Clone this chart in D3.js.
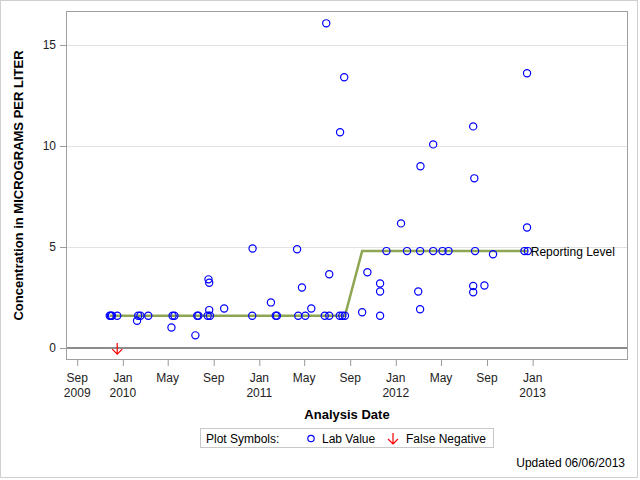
<!DOCTYPE html>
<html>
<head>
<meta charset="utf-8">
<script src="https://cdn.jsdelivr.net/npm/d3@7"></script>
<style>
  html, body { margin: 0; padding: 0; background: #fff; }
  svg { display: block; font-family: "Liberation Sans", Arial, sans-serif; }
</style>
</head>
<body>
<svg id="chart" width="640" height="480"></svg>
<script>
// ---------- DATA ----------
const labDates = [
  "2009-11-27","2009-11-30","2009-12-03","2009-12-17",
  "2010-02-08","2010-02-11","2010-02-17","2010-03-10",
  "2010-05-11","2010-05-14","2010-05-19",
  "2010-07-14","2010-07-19","2010-07-22",
  "2010-08-16","2010-08-18","2010-08-20","2010-08-20","2010-08-22",
  "2010-09-29","2010-12-13","2010-12-14",
  "2011-02-01","2011-02-14","2011-02-17",
  "2011-04-12","2011-04-15","2011-04-25","2011-05-04","2011-05-20",
  "2011-06-25","2011-06-29","2011-07-07","2011-07-07",
  "2011-08-04","2011-08-05","2011-08-11","2011-08-16","2011-08-18",
  "2011-10-03","2011-10-17","2011-11-20","2011-11-20","2011-11-20",
  "2011-12-07","2012-01-15","2012-01-31",
  "2012-03-01","2012-03-06","2012-03-06","2012-03-07",
  "2012-04-10","2012-04-10","2012-05-05","2012-05-21",
  "2012-07-26","2012-07-26","2012-07-26","2012-07-29","2012-07-31",
  "2012-08-25","2012-09-17",
  "2012-12-10","2012-12-17","2012-12-17","2012-12-19"
];
const labValues = [
  1.6, 1.6, 1.6, 1.6,
  1.35, 1.6, 1.6, 1.6,
  1.02, 1.6, 1.6,
  0.63, 1.6, 1.6,
  1.6, 3.4, 3.23, 1.88, 1.6,
  1.96, 1.6, 4.93,
  2.26, 1.6, 1.6,
  4.89, 1.6, 3.0, 1.6, 1.96,
  1.6, 16.07, 1.6, 3.65,
  1.6, 10.68, 1.6, 13.4, 1.6,
  1.77, 3.75, 3.2, 2.8, 1.6,
  4.8, 6.17, 4.8,
  2.8, 4.8, 1.92, 9.0,
  4.8, 10.08, 4.8, 4.8,
  3.07, 2.76, 10.97, 8.4, 4.8,
  3.1, 4.64,
  4.8, 5.97, 13.6, 4.8
];
const falseNegDates = ["2009-12-17"];
const falseNegValues = [0];
const reportDates = ["2009-11-27", "2011-08-18", "2011-10-03", "2012-12-19"];
const reportValues = [1.6, 1.6, 4.8, 4.8];
const xTickDates = ["2009-09-01","2010-01-01","2010-05-01","2010-09-01","2011-01-01",
  "2011-05-01","2011-09-01","2012-01-01","2012-05-01","2012-09-01","2013-01-01"];
const xTickMonths = ["Sep","Jan","May","Sep","Jan","May","Sep","Jan","May","Sep","Jan"];
const xTickYears = ["2009","2010","","","2011","","","2012","","","2013"];
const yTicks = [0, 5, 10, 15];
const yGrid = [5, 10, 15];

// ---------- SETUP ----------
const parse = d3.utcParse("%Y-%m-%d");
const svg = d3.select("#chart");
const L = 66, R = 628, T = 11, B = 360;

const x = d3.scaleUtc()
  .domain([parse("2009-08-02"), parse("2013-09-13")])
  .range([L, R]);
const y = d3.scaleLinear().domain([-0.59, 16.68]).range([B, T]);

// outer border
svg.append("rect").attr("x", 0.5).attr("y", 0.5).attr("width", 637).attr("height", 477)
  .attr("fill", "none").attr("stroke", "#d0d0d0");

// grid
svg.append("g").selectAll("line").data(yGrid).join("line")
  .attr("x1", L).attr("x2", R)
  .attr("y1", d => Math.round(y(d)) + 0.5).attr("y2", d => Math.round(y(d)) + 0.5)
  .attr("stroke", "#e2e2e2").attr("stroke-width", 1);

// zero reference line
svg.append("line").attr("x1", L).attr("x2", R)
  .attr("y1", y(0)).attr("y2", y(0))
  .attr("stroke", "#8c8c8c").attr("stroke-width", 2);

// Y axis
const yAxis = d3.axisLeft(y).tickValues(yTicks).tickSize(6).tickPadding(4).tickFormat(d3.format("d"));
const gy = svg.append("g").attr("transform", `translate(${L},0)`).call(yAxis);
gy.select(".domain").remove();
gy.selectAll(".tick line").attr("stroke", "#999");
gy.selectAll(".tick text").attr("font-size", 12).attr("fill", "#222")
  .attr("font-family", "Liberation Sans, Arial, sans-serif");

// X axis
const xAxis = d3.axisBottom(x).tickValues(xTickDates.map(parse)).tickSize(6).tickFormat("");
const gx = svg.append("g").attr("transform", `translate(0,${B})`).call(xAxis);
gx.select(".domain").remove();
gx.selectAll(".tick line").attr("stroke", "#999");
const lbl = svg.append("g").attr("font-size", 12).attr("fill", "#222").attr("text-anchor", "middle");
xTickDates.forEach((d, i) => {
  const px = x(parse(d));
  lbl.append("text").attr("x", px).attr("y", 382).text(xTickMonths[i]);
  if (xTickYears[i]) lbl.append("text").attr("x", px).attr("y", 397).text(xTickYears[i]);
});

// plot frame
svg.append("rect").attr("x", L + 0.5).attr("y", T + 0.5)
  .attr("width", R - L - 1).attr("height", B - T - 1)
  .attr("fill", "none").attr("stroke", "#a0a0a0");

// reporting level line
const line = d3.line().x(d => x(d[0])).y(d => y(d[1]));
svg.append("path")
  .datum(reportDates.map((d, i) => [parse(d), reportValues[i]]))
  .attr("d", line).attr("fill", "none")
  .attr("stroke", "#8ea651").attr("stroke-width", 2.5);

// lab values
svg.append("g").selectAll("circle")
  .data(labDates.map((d, i) => [parse(d), labValues[i]]))
  .join("circle")
  .attr("cx", d => x(d[0])).attr("cy", d => y(d[1])).attr("r", 3.6)
  .attr("fill", "none").attr("stroke", "#0000ff").attr("stroke-width", 1.2);

// false negatives
const arrowPath = "M0,-5L0,6M-5,1L0,6L5,1";
svg.append("g").selectAll("path")
  .data(falseNegDates.map((d, i) => [parse(d), falseNegValues[i]]))
  .join("path")
  .attr("transform", d => `translate(${x(d[0])},${y(d[1])})`)
  .attr("d", arrowPath).attr("fill", "none").attr("stroke", "#ff0000").attr("stroke-width", 1.2);

// reporting level label
const lastRep = reportDates.length - 1;
svg.append("text")
  .attr("x", x(parse(reportDates[lastRep])) + 3)
  .attr("y", y(reportValues[lastRep]) + 4.5)
  .attr("font-size", 12).attr("fill", "#000").text("Reporting Level");

// axis titles
svg.append("text").attr("x", (L + R) / 2).attr("y", 419)
  .attr("text-anchor", "middle").attr("font-size", 13).attr("font-weight", "bold")
  .attr("fill", "#000").text("Analysis Date");
svg.append("text")
  .attr("transform", `translate(23,${(T + B) / 2}) rotate(-90)`)
  .attr("text-anchor", "middle").attr("font-size", 13).attr("font-weight", "bold")
  .attr("fill", "#000").text("Concentration in MICROGRAMS PER LITER");

// legend
const lg = svg.append("g");
lg.append("rect").attr("x", 200.5).attr("y", 428.5).attr("width", 293).attr("height", 19)
  .attr("fill", "none").attr("stroke", "#c8c8c8");
lg.append("text").attr("x", 206).attr("y", 443).attr("font-size", 12).text("Plot Symbols:");
lg.append("circle").attr("cx", 311).attr("cy", 438.5).attr("r", 3.2)
  .attr("fill", "none").attr("stroke", "#0000ff").attr("stroke-width", 1.2);
lg.append("text").attr("x", 322).attr("y", 443).attr("font-size", 12).text("Lab Value");
lg.append("path").attr("transform", "translate(393,438)").attr("d", arrowPath)
  .attr("fill", "none").attr("stroke", "#ff0000").attr("stroke-width", 1.2);
lg.append("text").attr("x", 406).attr("y", 443).attr("font-size", 12).text("False Negative");

// footnote
svg.append("text").attr("x", 625).attr("y", 467).attr("text-anchor", "end")
  .attr("font-size", 12).attr("fill", "#000").text("Updated 06/06/2013");
</script>
</body>
</html>
